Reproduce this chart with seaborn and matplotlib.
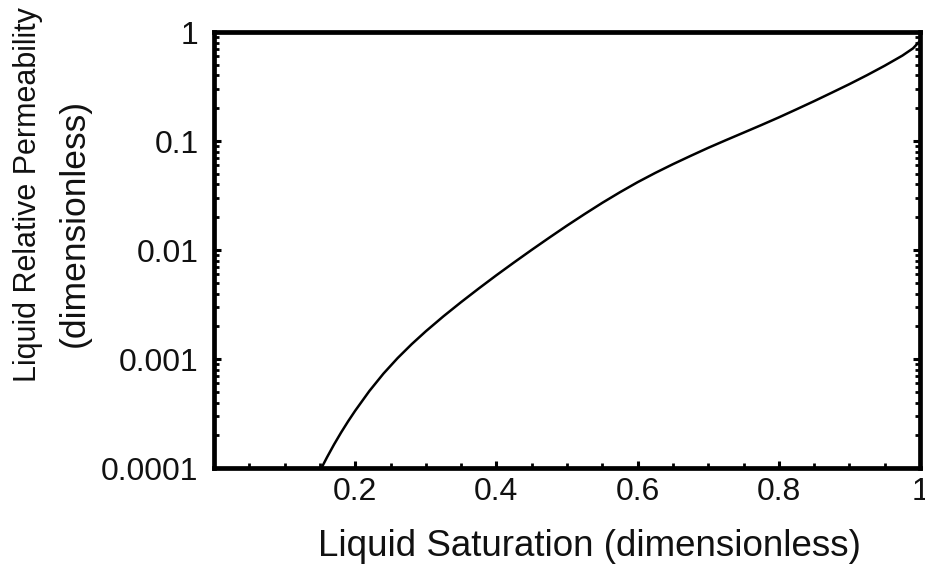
import matplotlib
matplotlib.use("Agg")
import matplotlib.pyplot as plt
import matplotlib.ticker as mticker
import numpy as np
import pandas as pd
import seaborn as sns

# Data
saturation = [0.152, 0.16, 0.17, 0.18, 0.19, 0.20, 0.22, 0.24, 0.26, 0.28,
              0.30, 0.325, 0.35, 0.375, 0.40, 0.425, 0.45, 0.475, 0.50, 0.525,
              0.55, 0.575, 0.60, 0.625, 0.65, 0.675, 0.70, 0.725, 0.75, 0.775,
              0.80, 0.825, 0.85, 0.875, 0.90, 0.925, 0.95, 0.975, 0.99, 1.0]
rel_perm = [1.000e-4, 1.259e-4, 1.652e-4, 2.128e-4, 2.698e-4, 3.373e-4, 5.105e-4, 7.379e-4, 1.023e-3, 1.374e-3,
            1.803e-3, 2.475e-3, 3.338e-3, 4.451e-3, 5.888e-3, 7.718e-3, 0.01006, 0.01303, 0.01679, 0.02143,
            0.02716, 0.03396, 0.04198, 0.05105, 0.06138, 0.07311, 0.08670, 0.1019, 0.1194, 0.1400,
            0.1648, 0.1954, 0.2323, 0.2777, 0.3327, 0.4022, 0.4909, 0.6074, 0.7072, 0.8272]

x_ticks = [0.2, 0.4, 0.6, 0.8, 1.0]
x_tick_labels = ["0.2", "0.4", "0.6", "0.8", "1"]
y_ticks = [1e-4, 1e-3, 1e-2, 1e-1, 1]
y_tick_labels = ["0.0001", "0.001", "0.01", "0.1", "1"]

sns.set_theme(style="ticks")
plt.rcParams['font.family'] = ['Liberation Sans', 'DejaVu Sans']

df = pd.DataFrame({"s": saturation, "k": rel_perm})

fig = plt.figure(figsize=(9.25, 5.67), dpi=100)
ax = fig.add_axes([214/925, 1 - 468.3/567, (920 - 214)/925, (468.3 - 32)/567])

sns.lineplot(data=df, x="s", y="k", ax=ax, color="black", linewidth=1.8)

ax.set_yscale("log")
ax.set_xlim(0, 1)
ax.set_ylim(1e-4, 1)

ax.set_xticks(x_ticks)
ax.set_xticklabels(x_tick_labels)
ax.xaxis.set_minor_locator(mticker.MultipleLocator(0.05))
ax.set_yticks(y_ticks)
ax.set_yticklabels(y_tick_labels)
ax.yaxis.set_minor_locator(mticker.LogLocator(base=10, subs=np.arange(2, 10)))
ax.yaxis.set_minor_formatter(mticker.NullFormatter())

ax.tick_params(axis="both", which="major", direction="in", length=5, width=2.2,
               labelsize=23, colors="black", labelcolor="#111111")
ax.tick_params(axis="both", which="minor", direction="in", length=3.5, width=2, colors="black")
ax.tick_params(axis="y", which="both", left=True, right=True, pad=11)
ax.tick_params(axis="x", which="both", bottom=True, top=False, pad=6)

for sp in ax.spines.values():
    sp.set_visible(True)
    sp.set_linewidth(3.4)
    sp.set_color("black")

ax.set_xlabel("")
ax.set_ylabel("")
fig.text(589/925, 1 - 546/567, "Liquid Saturation (dimensionless)", ha="center", va="center",
         fontsize=26.5, color="#111111")
fig.text(28/925, 1 - 195/567, "Liquid Relative Permeability", rotation=90, ha="center",
         va="center", fontsize=22, color="#111111")
fig.text(74/925, 1 - 223/567, "(dimensionless)", rotation=90, ha="center",
         va="center", fontsize=25.5, color="#111111")

fig.savefig("out.png", dpi=100)
